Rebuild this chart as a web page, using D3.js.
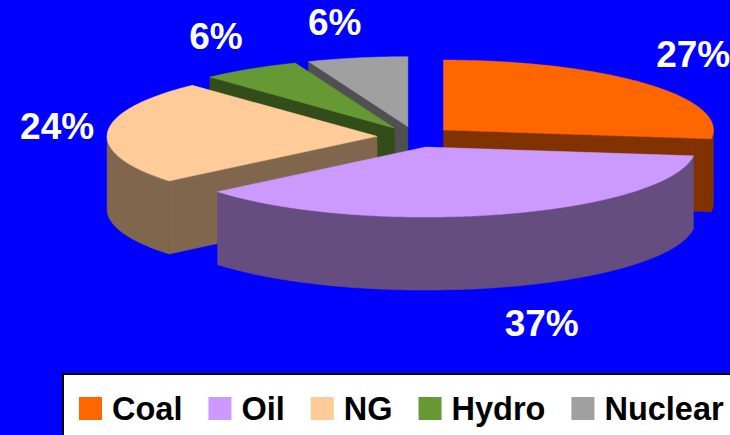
<!DOCTYPE html>
<html>
<head>
<meta charset="utf-8">
<script src="https://cdn.jsdelivr.net/npm/d3@7/dist/d3.min.js"></script>
<style>
  html, body { margin: 0; padding: 0; background: #0000FF; }
  svg { display: block; }
</style>
</head>
<body>
<svg id="chart" width="730" height="435"></svg>
<script>
// Energy mix by source (percent of total)
const categories = ["Coal", "Oil", "NG", "Hydro", "Nuclear"];
const shares = [27, 37, 24, 6, 6];

// Slice colours (top faces); the walls use the same hue at half brightness
const palette = ["#FF6600", "#CC99FF", "#FFCC99", "#669933", "#A0A0A0"];

const W = 730, H = 435;
const svg = d3.select("#chart");
svg.append("rect").attr("width", W).attr("height", H).attr("fill", "#0000FF");

// 3-D pie geometry
const cx = 415, cy = 137;     // centre of the pie top
const rx = 270, ry = 70;      // ellipse radii of the tilted disc
const depth = 73;             // thickness of the disc
const explodeX = 38, explodeY = 10.5;

const colour = d3.scaleOrdinal().domain(categories).range(palette);
const wallColour = c => { const k = d3.rgb(c); return d3.rgb(k.r / 2, k.g / 2, k.b / 2).formatHex(); };

const arcs = d3.pie().sort(null).value(d => d.value).startAngle(0).endAngle(2 * Math.PI)(
  categories.map((name, i) => ({ name, value: shares[i] }))
);

const slices = arcs.map(a => {
  const mid = (a.startAngle + a.endAngle) / 2;
  return {
    name: a.data.name,
    value: a.data.value,
    a0: a.startAngle,
    a1: a.endAngle,
    mid,
    ox: cx + explodeX * Math.sin(mid),
    oy: cy - explodeY * Math.cos(mid)
  };
});

const pt = (s, t, dz = 0) => [s.ox + rx * Math.sin(t), s.oy - ry * Math.cos(t) + dz];

function arcPoints(s, t0, t1, dz) {
  const n = Math.max(2, Math.ceil(Math.abs(t1 - t0) / (Math.PI / 360)));
  return d3.range(n + 1).map(i => pt(s, t0 + (t1 - t0) * i / n, dz));
}

const line = d3.line();

function topPath(s) {
  return line([[s.ox, s.oy], ...arcPoints(s, s.a0, s.a1, 0)]) + "Z";
}

function radialWall(s, t) {
  const e = pt(s, t);
  return line([[s.ox, s.oy], e, [e[0], e[1] + depth], [s.ox, s.oy + depth]]) + "Z";
}

function outerWall(s) {
  // front half of the rim faces the viewer: angles between 90° and 270°
  const lo = Math.max(s.a0, Math.PI / 2), hi = Math.min(s.a1, 3 * Math.PI / 2);
  if (hi <= lo) return null;
  const top = arcPoints(s, lo, hi, 0);
  const bottom = arcPoints(s, hi, lo, depth);
  return line([...top, ...bottom]) + "Z";
}

// paint back-to-front
const order = slices.slice().sort((a, b) => a.oy - b.oy);
const pie = svg.append("g");

order.forEach(s => {
  const g = pie.append("g");
  const top = colour(s.name), wall = wallColour(top);
  // a radial wall is visible when its outward normal points toward the viewer
  if (Math.sin(s.a0) < -1e-6) {
    g.append("path").attr("d", radialWall(s, s.a0)).attr("fill", wall).attr("stroke", wall).attr("stroke-width", 0.5);
  }
  if (Math.sin(s.a1) > 1e-6) {
    g.append("path").attr("d", radialWall(s, s.a1)).attr("fill", wall).attr("stroke", wall).attr("stroke-width", 0.5);
  }
  const ow = outerWall(s);
  if (ow) g.append("path").attr("d", ow).attr("fill", wall).attr("stroke", wall).attr("stroke-width", 0.5);
  g.append("path").attr("d", topPath(s)).attr("fill", top).attr("stroke", top).attr("stroke-width", 0.5);
});

// percentage labels: anchored just outside the rim at the slice's mid angle,
// with the text box pushed outward from that anchor
const fmt = v => `${v}%`;
const kx = 1.05, ky = 1.25, push = 4, labelH = 37;
const clamp = v => Math.max(-1, Math.min(1, v));
const labels = svg.append("g").selectAll("text").data(slices).join("text")
  .attr("text-anchor", "middle")
  .attr("dy", "0.35em")
  .attr("font-family", "'Liberation Sans', Arial, sans-serif")
  .attr("font-weight", "bold")
  .attr("font-size", 37)
  .attr("fill", "#FFFFFF")
  .text(s => fmt(s.value));

labels.each(function (s) {
  const w = this.getComputedTextLength();
  const sx = Math.sin(s.mid), cz = Math.cos(s.mid);
  const ax = s.ox + rx * kx * sx;
  const ay = s.oy - ry * ky * cz + (cz < 0 ? depth : 0);
  d3.select(this)
    .attr("x", ax + clamp(sx * push) * w / 2)
    .attr("y", ay - clamp(cz * push) * labelH / 2);
});

// legend
const legend = svg.append("g");
legend.append("rect")
  .attr("x", 63).attr("y", 374).attr("width", 700).attr("height", 100)
  .attr("fill", "#FFFFFF").attr("stroke", "#000000").attr("stroke-width", 2);

const sw = 23, gapText = 10, gapItem = 26, baseline = 420;
let lx = 79;
categories.forEach(name => {
  legend.append("rect")
    .attr("x", lx).attr("y", baseline - sw).attr("width", sw).attr("height", sw)
    .attr("fill", colour(name));
  const t = legend.append("text")
    .attr("x", lx + sw + gapText).attr("y", baseline)
    .attr("font-family", "'Liberation Sans', Arial, sans-serif")
    .attr("font-weight", "bold")
    .attr("font-size", 32.5)
    .attr("fill", "#000000")
    .text(name);
  lx += sw + gapText + t.node().getComputedTextLength() + gapItem;
});
</script>
</body>
</html>
